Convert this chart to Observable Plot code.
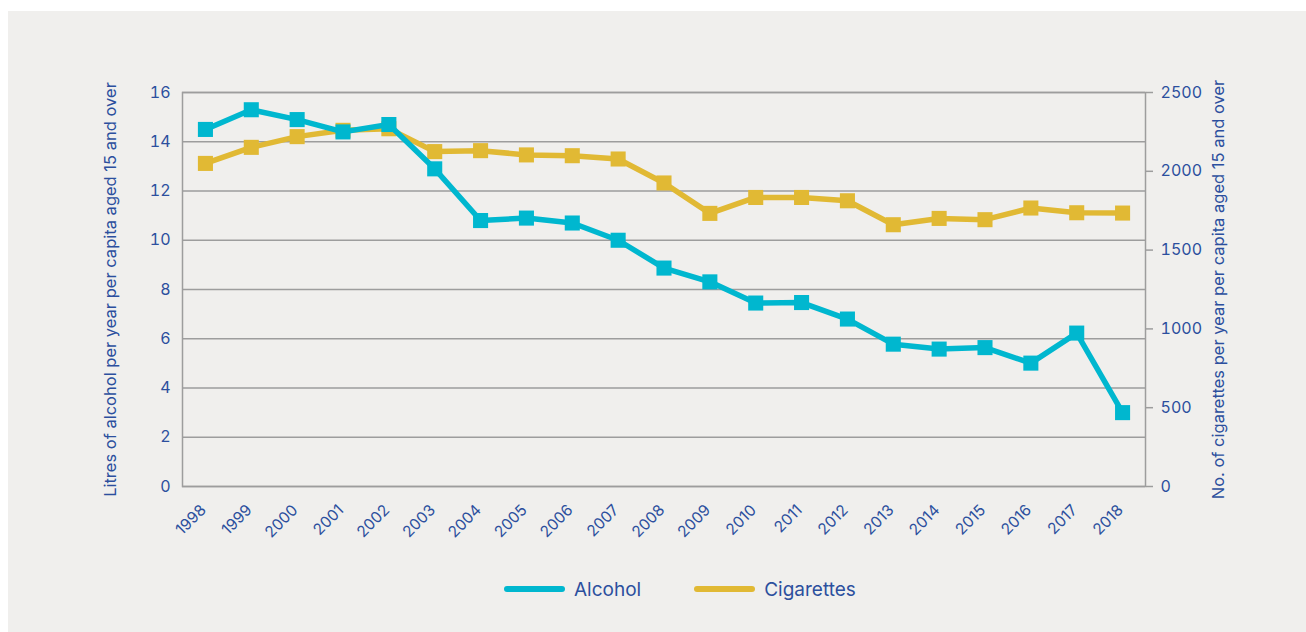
<!DOCTYPE html>
<html><head><meta charset="utf-8">
<script src="https://cdn.jsdelivr.net/npm/d3@7"></script>
<script src="https://cdn.jsdelivr.net/npm/@observablehq/plot@0.6"></script>
<style>
html,body{margin:0;padding:0;background:#fff;width:1306px;height:632px;overflow:hidden;font-family:Inter,"Noto Sans",sans-serif;}
#panel{position:absolute;left:8px;top:11px;width:1298px;height:621px;background:#f0efed;}
#chart{position:absolute;left:0;top:0;}
#chart g[aria-label="y-axis tick label"]{font-size:16px;}
#chart g[aria-label="x-axis tick label"], #chart g[aria-label="x-axis tick label"] text{font-size:15.5px;}
#chart g[aria-label="y-axis label"]{font-size:16.5px;}
#legend{position:absolute;left:504px;top:577px;height:24px;display:flex;align-items:center;color:#2c4f9e;font-size:19px;}
.item{display:flex;align-items:center;}
.sw{width:61px;height:6px;border-radius:3px;margin-right:9px;}
</style>
</head><body>
<div id="panel"></div>
<div id="chart"></div>
<div id="legend"></div>
<script>
const years = [1998,1999,2000,2001,2002,2003,2004,2005,2006,2007,2008,2009,2010,2011,2012,2013,2014,2015,2016,2017,2018];
const alcohol = [14.5,15.3,14.9,14.4,14.7,12.9,10.8,10.9,10.7,10.0,8.87,8.31,7.45,7.47,6.8,5.78,5.58,5.64,5.01,6.23,3.0];
const cigarettes = [2050,2152,2220,2260,2270,2125,2131,2104,2099,2078,1926,1733,1834,1834,1813,1661,1701,1693,1767,1737,1735];
const leftTicks = [0,2,4,6,8,10,12,14,16];
const rightTicks = [0,500,1000,1500,2000,2500];
const seriesNames = ["Alcohol","Cigarettes"];
const seriesColors = ["#00b7cf","#e1b934"];
const leftTitle = "Litres of alcohol per year per capita aged 15 and over";
const rightTitle = "No. of cigarettes per year per capita aged 15 and over";

const leftMax = 16, rightMax = 2500;
const toLeft = v => v * leftMax / rightMax;
const alcData = years.map((y,i)=>({year:y, value:alcohol[i]}));
const cigData = years.map((y,i)=>({year:y, value:toLeft(cigarettes[i])}));
const textColor = "#2c4f9e", gridColor = "#9d9d9d";

const chart = Plot.plot({
  width:1306, height:550,
  marginLeft:182, marginRight:161, marginTop:92, marginBottom:64,
  style:{background:"transparent", fontFamily:"Inter, 'Noto Sans', sans-serif", color:textColor},
  x:{type:"point", domain:years, padding:0.5, round:false},
  y:{domain:[0,leftMax]},
  marks:[
    Plot.gridY(leftTicks, {stroke:gridColor, strokeOpacity:1, strokeWidth:1.5}),
    Plot.frame({stroke:gridColor, strokeWidth:1.5}),
    Plot.axisY(leftTicks, {anchor:"left", tickSize:0, tickPadding:12, fill:textColor,
      label:leftTitle, labelAnchor:"center", labelArrow:"none", labelOffset:78}),
    Plot.axisY(rightTicks.map(toLeft), {anchor:"right", tickSize:7, tickPadding:8,
      stroke:gridColor, strokeWidth:1.5, fill:textColor,
      tickFormat:v=>String(Math.round(v*rightMax/leftMax)),
      label:rightTitle, labelAnchor:"center", labelArrow:"none", labelOffset:78}),
    Plot.axisX({tickRotate:-45, tickSize:0, tickPadding:8, fontSize:15.5, dx:-2, dy:13, fill:textColor, label:null, tickFormat:d=>String(d)}),
    Plot.line(cigData, {x:"year", y:"value", stroke:seriesColors[1], strokeWidth:5.5}),
    Plot.dot(cigData, {x:"year", y:"value", symbol:"square", r:8.5, fill:seriesColors[1]}),
    Plot.line(alcData, {x:"year", y:"value", stroke:seriesColors[0], strokeWidth:5.5}),
    Plot.dot(alcData, {x:"year", y:"value", symbol:"square", r:8.5, fill:seriesColors[0]})
  ]
});
document.getElementById("chart").appendChild(chart);

const legend = document.getElementById("legend");
seriesNames.forEach((n,i)=>{
  const it = document.createElement("div");
  it.className="item";
  it.style.marginRight = i===0 ? "53px" : "0";
  const sw = document.createElement("div");
  sw.className="sw"; sw.style.background=seriesColors[i];
  const t = document.createElement("span"); t.textContent=n;
  it.appendChild(sw); it.appendChild(t);
  legend.appendChild(it);
});
</script>
</body></html>
